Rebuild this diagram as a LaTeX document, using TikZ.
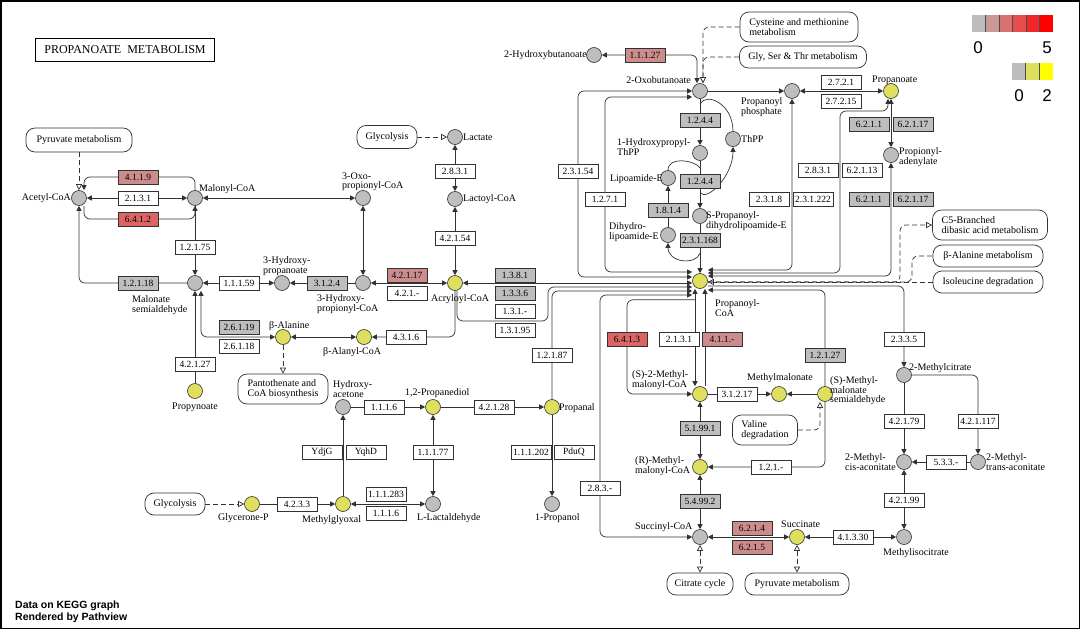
\documentclass[tikz,border=0pt]{standalone}
\usepackage{fontspec}
\setmainfont{Liberation Serif}
\newfontfamily\legendfont{Liberation Sans}
\definecolor{KGray}{RGB}{190,190,190}
\definecolor{KYellow}{RGB}{222,222,95}
\definecolor{KPink}{RGB}{205,140,140}
\definecolor{KRed}{RGB}{220,100,100}
\definecolor{KLine}{RGB}{50,50,50}
\definecolor{KS1}{RGB}{203,152,152}
\definecolor{KS2}{RGB}{216,114,114}
\definecolor{KS3}{RGB}{229,76,76}
\definecolor{KS4}{RGB}{242,38,38}
\definecolor{KS5}{RGB}{255,0,0}
\definecolor{KY2}{RGB}{255,255,0}
\usetikzlibrary{positioning,arrows.meta,backgrounds}
\newcommand\kfont{\fontsize{10}{9.5}\selectfont}
\newcommand\efont{\fontsize{9.5}{10}\selectfont}
\tikzset{
  cpd/.style={circle, draw=KLine, fill=KGray, minimum size=15pt, inner sep=0pt, line width=0.6pt},
  cpdy/.style={cpd, fill=KYellow},
  enz/.style={draw=KLine, fill=white, minimum width=40pt, minimum height=14pt, inner sep=0pt, line width=0.7pt, font=\efont},
  enzg/.style={enz, fill=KGray},
  enzp/.style={enz, fill=KPink},
  enzr/.style={enz, fill=KRed},
  mapbox/.style={draw=KLine, fill=white, rounded corners=9pt, inner sep=2pt, line width=0.7pt, font=\kfont, align=left},
  lbl/.style={inner sep=0pt, font=\kfont, align=left},
  rx/.style={draw=KLine, line width=0.7pt, rounded corners=6pt},
  link/.style={draw=KLine, line width=0.7pt, rounded corners=6pt, dash pattern=on 5pt off 3pt},
  lo/.style={-{Triangle[fill=white,length=6pt,width=6pt]}},
  blo/.style={{Triangle[fill=white,length=6pt,width=6pt]}-{Triangle[fill=white,length=6pt,width=6pt]}}
}
\begin{document}
\begin{tikzpicture}[x=1pt, y=-1pt, >={Triangle[length=5pt,width=5pt]}]
  \useasboundingbox (0,0) rectangle (1080,629);
  \draw[line width=1.5pt] (0.75,0.75) rectangle (1079.25,628.25);

  \node[draw, line width=1.4pt, minimum width=179pt, minimum height=23pt, font=\fontsize{12}{12}\selectfont] (title) at (125,50) {PROPANOATE\ \ METABOLISM};

  % compounds
  \node[cpd] (acoa) at (79,198) {};
  \node[cpd] (macoa) at (195,198) {};
  \node[cpd] (msa) at (195,283) {};
  \node[cpdy] (propy) at (195,391) {};
  \node[cpd] (hpa) at (282,283) {};
  \node[cpd] (hpcoa) at (363,283) {};
  \node[cpd] (opcoa) at (363,198) {};
  \node[cpdy] (acrcoa) at (455,283) {};
  \node[cpd] (lcoa) at (455,199) {};
  \node[cpd] (lac) at (455,137) {};
  \node[cpdy] (balan) at (283,337) {};
  \node[cpdy] (bacoa) at (364,337) {};
  \node[cpd] (hace) at (343,407) {};
  \node[cpdy] (pdiol) at (433,407) {};
  \node[cpdy] (ppal) at (552,407) {};
  \node[cpdy] (mgly) at (343,504) {};
  \node[cpdy] (gp) at (252,504) {};
  \node[cpd] (llact) at (433,504) {};
  \node[cpd] (prol) at (552,504) {};
  \node[cpd] (hbut) at (594,55) {};
  \node[cpd] (obut) at (700,91) {};
  \node[cpd] (pphos) at (792,91) {};
  \node[cpdy] (ppa) at (891,91) {};
  \node[cpd] (padn) at (891,155) {};
  \node[cpd] (hpthpp) at (700,153) {};
  \node[cpd] (thpp) at (733,139) {};
  \node[cpd] (lipe) at (668,178) {};
  \node[cpd] (dhlipe) at (668,235) {};
  \node[cpd] (spdhl) at (700,216) {};
  \node[cpdy] (pcoa) at (700,281) {};
  \node[cpdy] (smmcoa) at (700,394) {};
  \node[cpdy] (mma) at (779,394) {};
  \node[cpdy] (smsa) at (825,394) {};
  \node[cpdy] (rmmcoa) at (700,467) {};
  \node[cpd] (scoa) at (700,537) {};
  \node[cpdy] (succ) at (797,537) {};
  \node[cpd] (mcit) at (904,375) {};
  \node[cpd] (mcac) at (904,462) {};
  \node[cpd] (mtac) at (978,462) {};
  \node[cpd] (micit) at (904,537) {};

  % compound names
  \node[lbl, anchor=east] (t-acoa) at (71,198) {Acetyl-CoA};
  \node[lbl, anchor=west] (t-macoa) at (199,189) {Malonyl-CoA};
  \node[lbl, anchor=west] (t-opcoa) at (342,182) {3-Oxo-\\propionyl-CoA};
  \node[lbl, anchor=west] (t-msa) at (132,305) {Malonate\\semialdehyde};
  \node[lbl, anchor=west] (t-hpa) at (263,266) {3-Hydroxy-\\propanoate};
  \node[lbl, anchor=west] (t-hpcoa) at (317,304) {3-Hydroxy-\\propionyl-CoA};
  \node[lbl, anchor=west] (t-acrcoa) at (431,299) {Acryloyl-CoA};
  \node[lbl, anchor=west] (t-lcoa) at (463,199) {Lactoyl-CoA};
  \node[lbl, anchor=west] (t-lac) at (463,137) {Lactate};
  \node[lbl, anchor=east] (t-hbut) at (587,55) {2-Hydroxybutanoate};
  \node[lbl, anchor=east] (t-obut) at (691,80) {2-Oxobutanoate};
  \node[lbl, anchor=west] (t-pphos) at (741,107) {Propanoyl\\phosphate};
  \node[lbl, anchor=west] (t-hpthpp) at (617,147) {1-Hydroxypropyl-\\ThPP};
  \node[lbl, anchor=west] (t-thpp) at (741,139) {ThPP};
  \node[lbl, anchor=east] (t-lipe) at (663,179) {Lipoamide-E};
  \node[lbl, anchor=west] (t-dhlipe) at (609,232) {Dihydro-\\lipoamide-E};
  \node[lbl, anchor=west] (t-spdhl) at (706,221) {S-Propanoyl-\\dihydrolipoamide-E};
  \node[lbl, anchor=west] (t-pcoa) at (715,308) {Propanoyl-\\CoA};
  \node[lbl, anchor=west] (t-ppa) at (872,80) {Propanoate};
  \node[lbl, anchor=west] (t-padn) at (899,157) {Propionyl-\\adenylate};
  \node[lbl, anchor=west] (t-smmcoa) at (632,380) {(S)-2-Methyl-\\malonyl-CoA};
  \node[lbl, anchor=west] (t-mma) at (747,378) {Methylmalonate};
  \node[lbl, anchor=west] (t-smsa) at (830,391) {(S)-Methyl-\\malonate\\semialdehyde};
  \node[lbl, anchor=west] (t-mcit) at (909,368) {2-Methylcitrate};
  \node[lbl, anchor=west] (t-mcac) at (845,462) {2-Methyl-\\cis-aconitate};
  \node[lbl, anchor=west] (t-mtac) at (986,462) {2-Methyl-\\trans-aconitate};
  \node[lbl, anchor=west] (t-micit) at (883,553) {Methylisocitrate};
  \node[lbl, anchor=west] (t-succ) at (781,524) {Succinate};
  \node[lbl, anchor=west] (t-scoa) at (635,527) {Succinyl-CoA};
  \node[lbl, anchor=west] (t-rmmcoa) at (635,466) {(R)-Methyl-\\malonyl-CoA};
  \node[lbl, anchor=west] (t-ppal) at (559,408) {Propanal};
  \node[lbl, anchor=west] (t-prol) at (535,518) {1-Propanol};
  \node[lbl, anchor=west] (t-llact) at (417,518) {L-Lactaldehyde};
  \node[lbl, anchor=west] (t-pdiol) at (405,393) {1,2-Propanediol};
  \node[lbl, anchor=west] (t-hace) at (333,389) {Hydroxy-\\acetone};
  \node[lbl, anchor=west] (t-mgly) at (302,520) {Methylglyoxal};
  \node[lbl, anchor=west] (t-gp) at (218,518) {Glycerone-P};
  \node[lbl, anchor=west] (t-balan) at (269,326) {β-Alanine};
  \node[lbl, anchor=west] (t-bacoa) at (323,352) {β-Alanyl-CoA};
  \node[lbl, anchor=west] (t-propy) at (172,407) {Propynoate};

  % maps
  \node[mapbox, minimum width=106pt, minimum height=24pt] (pyr1) at (79,140) {Pyruvate metabolism};
  \node[mapbox, minimum width=60pt, minimum height=23pt] (glyc1) at (387,137) {Glycolysis};
  \node[mapbox, minimum width=118pt, minimum height=30pt] (cysmet) at (799,27) {Cysteine and methionine\\metabolism};
  \node[mapbox, minimum width=127pt, minimum height=22pt] (glyser) at (803,57) {Gly, Ser \& Thr metabolism};
  \node[mapbox, minimum width=115pt, minimum height=30pt] (c5) at (990,225) {C5-Branched\\dibasic acid metabolism};
  \node[mapbox, minimum width=110pt, minimum height=22pt] (bam) at (988,256) {β-Alanine metabolism};
  \node[mapbox, minimum width=110pt, minimum height=22pt] (ile) at (988,282) {Isoleucine degradation};
  \node[mapbox, minimum width=90pt, minimum height=30pt] (pant) at (283,389) {Pantothenate and\\CoA biosynthesis};
  \node[mapbox, minimum width=65pt, minimum height=30pt] (val) at (765,430) {Valine\\degradation};
  \node[mapbox, minimum width=60pt, minimum height=22pt] (glyc2) at (175,504) {Glycolysis};
  \node[mapbox, minimum width=66pt, minimum height=22pt] (cit) at (700,584) {Citrate cycle};
  \node[mapbox, minimum width=104pt, minimum height=22pt] (pyr2) at (797,584) {Pyruvate metabolism};

  % enzymes
  \node[enzp] (e4119) at (138,177) {4.1.1.9};
  \node[enz] (e2131a) at (138,198) {2.1.3.1};
  \node[enzr] (e6412) at (138,219) {6.4.1.2};
  \node[enz] (e12175) at (195,247) {1.2.1.75};
  \node[enzg] (e12118) at (138,283) {1.2.1.18};
  \node[enz] (e11159) at (239,283) {1.1.1.59};
  \node[enzg] (e3124) at (327,283) {3.1.2.4};
  \node[enzp] (e42117) at (407,275) {4.2.1.17};
  \node[enz] (e421x) at (407,293) {4.2.1.-};
  \node[enz] (e42154) at (455,238) {4.2.1.54};
  \node[enz] (e2831a) at (455,171) {2.8.3.1};
  \node[enzg] (e1381) at (515,275) {1.3.8.1};
  \node[enzg] (e1336) at (515,293) {1.3.3.6};
  \node[enz] (e131x) at (515,311) {1.3.1.-};
  \node[enz] (e13195) at (515,330) {1.3.1.95};
  \node[enz] (e4316) at (406,337) {4.3.1.6};
  \node[enzg] (e26119) at (239,327) {2.6.1.19};
  \node[enz] (e26118) at (239,346) {2.6.1.18};
  \node[enz] (e42127) at (195,364) {4.2.1.27};
  \node[enzp] (e11127) at (645,55) {1.1.1.27};
  \node[enz] (e23154) at (578,171) {2.3.1.54};
  \node[enz] (e1271) at (605,199) {1.2.7.1};
  \node[enzg] (e1244a) at (700,120) {1.2.4.4};
  \node[enzg] (e1244b) at (700,181) {1.2.4.4};
  \node[enzg] (e1814) at (668,210) {1.8.1.4};
  \node[enzg] (e231168) at (700,240) {2.3.1.168};
  \node[enz] (e2318) at (769,199) {2.3.1.8};
  \node[enz] (e231222) at (813,199) {2.3.1.222};
  \node[enz] (e2721) at (841,82) {2.7.2.1};
  \node[enz] (e27215) at (841,101) {2.7.2.15};
  \node[enzg] (e6211a) at (869,124) {6.2.1.1};
  \node[enzg] (e62117a) at (913,124) {6.2.1.17};
  \node[enz] (e2831b) at (818,170) {2.8.3.1};
  \node[enz] (e62113) at (862,170) {6.2.1.13};
  \node[enzg] (e6211b) at (869,199) {6.2.1.1};
  \node[enzg] (e62117b) at (913,199) {6.2.1.17};
  \node[enzr] (e6413) at (627,339) {6.4.1.3};
  \node[enz] (e2131b) at (679,339) {2.1.3.1};
  \node[enzp] (e411x) at (722,339) {4.1.1.-};
  \node[enzg] (e12127) at (825,355) {1.2.1.27};
  \node[enz] (e31217) at (737,394) {3.1.2.17};
  \node[enzg] (e51991) at (700,428) {5.1.99.1};
  \node[enz] (e121x) at (771,467) {1.2.1.-};
  \node[enzg] (e54992) at (700,501) {5.4.99.2};
  \node[enz] (e2833) at (600,488) {2.8.3.-};
  \node[enzp] (e6214) at (752,528) {6.2.1.4};
  \node[enzp] (e6215) at (752,547) {6.2.1.5};
  \node[enz] (e41330) at (853,537) {4.1.3.30};
  \node[enz] (e2335) at (904,339) {2.3.3.5};
  \node[enz] (e42179) at (904,421) {4.2.1.79};
  \node[enz] (e421117) at (978,421) {4.2.1.117};
  \node[enz] (e533x) at (946,462) {5.3.3.-};
  \node[enz] (e42199) at (904,500) {4.2.1.99};
  \node[enz] (e12187) at (552,355) {1.2.1.87};
  \node[enz] (e42128) at (494,407) {4.2.1.28};
  \node[enz] (e1116a) at (384,407) {1.1.1.6};
  \node[enz] (e11177) at (433,452) {1.1.1.77};
  \node[enz] (e111202) at (531,452) {1.1.1.202};
  \node[enz] (epduq) at (574,452) {PduQ};
  \node[enz] (eydjg) at (322,452) {YdjG};
  \node[enz] (eyqhd) at (366,452) {YqhD};
  \node[enz] (e4233) at (297,504) {4.2.3.3};
  \node[enz] (e111283) at (386,494) {1.1.1.283};
  \node[enz] (e1116b) at (386,513) {1.1.1.6};

  \coordinate (k131) at (548,321);
  \coordinate (k2831) at (840,111);
  \coordinate (kc5) at (900,250);
  \coordinate (kba) at (912,268);

  \begin{scope}[on background layer]
    \draw[rx,<->] (acoa) -- (macoa);
    \draw[rx,->] (macoa.north) |- (e4119.center) -| ([xshift=5pt]acoa.north);
    \draw[rx,->] ([xshift=5pt]acoa.south) |- (e6412.center) -| (macoa.south);
    \draw[rx,->] (msa.west) -| (acoa.south);
    \draw[link,lo] (pyr1) -- (acoa);
    \draw[rx,->] (macoa) -- (msa);
    \draw[rx,<->] (msa) -- (hpa);
    \draw[rx,->] (hpcoa) -- (hpa);
    \draw[rx,<->] (macoa) -- (opcoa);
    \draw[rx,<->] (opcoa) -- (hpcoa);
    \draw[rx,<->] (hpcoa) -- (acrcoa);
    \draw[rx,<->] (lcoa) -- (acrcoa);
    \draw[rx,<->] (lcoa) -- (lac);
    \draw[link,lo] (glyc1) -- (lac);
    \draw[rx,<->] (acrcoa) -- ([yshift=-2pt]pcoa.west);
    \draw[rx,->] ([xshift=2pt]acrcoa.south) |- (k131) |- ([yshift=-6pt]pcoa.west);
    \draw[rx,->] (acrcoa.south) |- (bacoa);
    \draw[rx,<->] (balan) -| ([xshift=6pt]msa.south);
    \draw[rx,->] (propy) -- (msa);
    \draw[rx,<->] (balan) -- (bacoa);
    \draw[link,lo] (balan) -- (pant);
    \draw[rx,->] (hace) -- (pdiol);
    \draw[rx,->] (pdiol) -- (ppal);
    \draw[rx,->] (mgly) -- (hace);
    \draw[rx,->] (gp) -- (mgly);
    \draw[link,lo] (glyc2) -- (gp);
    \draw[rx,<->] (mgly) -- (llact);
    \draw[rx,<->] (llact) -- (pdiol);
    \draw[rx,->] (ppal) -- (prol);
    \draw[rx,->] (ppal.north) |- ([yshift=-10pt]pcoa.west);
    \draw[rx,<->] ([yshift=-14pt]pcoa.west) -| (e2833.center) |- (scoa);
    \draw[rx,<->] ([yshift=4pt]pcoa.west) -| (e23154.center) |- (obut.west);
    \draw[rx,<->] ([yshift=9pt]pcoa.west) -| (e1271.center) |- ([yshift=-6pt]obut.west);
    \draw[rx,->] (obut) -- (pphos);
    \draw[rx,<->] ([xshift=-3pt]obut.north) |- (hbut);
    \draw[link,lo] (cysmet.west) -| ([xshift=3pt]obut.north);
    \draw[link,lo] (glyser.west) -| ([xshift=3pt]obut.north);
    \draw[rx,<->] (pphos) -- (ppa);
    \draw[rx,->] (obut) -- (hpthpp);
    \draw[rx,->] (hpthpp) -- (spdhl);
    \draw[rx,->] (spdhl) -- (pcoa);
    \draw[rx] ([yshift=-13pt]obut.center) .. controls +(6,-12) and +(0,-28) .. (thpp.north);
    \draw[rx,->] ([yshift=-4pt]e1244b.south) .. controls +(6,10) and +(0,30) .. (thpp.south);
    \draw[rx] (lipe.north) .. controls +(0,-14) and +(-6,-8) .. ([yshift=-7pt]hpthpp.south);
    \draw[rx,->] (dhlipe) -- (lipe);
    \draw[rx,->] ([yshift=-6pt]e231168.south) .. controls +(-4,12) and +(0,20) .. (dhlipe.south);
    \draw[rx,<->] (pphos.south) |- ([yshift=11pt]pcoa.east);
    \draw[rx,<->] ([xshift=-3pt]ppa.south) |- (k2831) |- ([yshift=8pt]pcoa.east);
    \draw[rx,<->] (ppa) -- (padn);
    \draw[rx,<->] (padn.south) |- ([yshift=5pt]pcoa.east);
    \draw[link,lo] (ile) -- ([yshift=-1pt]pcoa.east);
    \draw[link,lo] ([yshift=-1pt]pcoa.east) -| (kc5) |- (c5);
    \draw[link] ([yshift=-1pt]pcoa.east) -| (kba) |- (bam);
    \draw[rx,->] ([yshift=-5pt]pcoa.east) -| (mcit);
    \draw[rx,->] (smsa.north) |- ([yshift=-9pt]pcoa.east);
    \draw[rx,<->] ([xshift=-5pt]pcoa.south) -- ([xshift=-5pt]smmcoa.north);
    \draw[rx,->] ([xshift=5pt]smmcoa.north) -- ([xshift=5pt]pcoa.south);
    \draw[rx,->] ([xshift=-5pt,yshift=-11pt]pcoa.south) -| (e6413.center) |- (smmcoa);
    \draw[rx,->] (smmcoa) -- (mma);
    \draw[rx,->] (smsa) -- (mma);
    \draw[rx,<->] (smmcoa) -- (rmmcoa);
    \draw[rx,->] (smsa.south) |- (rmmcoa);
    \draw[link,lo] (val.east) -| ([xshift=-5pt]smsa.south);
    \draw[rx,<->] (rmmcoa) -- (scoa);
    \draw[rx,<->] (scoa) -- (succ);
    \draw[rx,<->] (succ) -- (micit);
    \draw[link,blo] (succ) -- (pyr2);
    \draw[link,blo] (scoa) -- (cit);
    \draw[rx,->] (mcit) -- (mcac);
    \draw[rx,->] (mcit.east) -| (mtac);
    \draw[rx,->] (mtac) -- (mcac);
    \draw[rx,<->] (micit) -- (mcac);
  \end{scope}

  % legend
  \foreach \c [count=\i from 0] in {KGray,KS1,KS2,KS3,KS4,KS5}
    \fill[\c] (972+13.5*\i,15) rectangle ++(13.5,17);
  \foreach \i in {1,...,5}
    \draw[black!70, line width=0.5pt] (972+13.5*\i,15) -- ++(0,17);
  \foreach \c [count=\i from 0] in {KGray,KYellow,KY2}
    \fill[\c] (1012+13.67*\i,63) rectangle ++(13.67,17);
  \foreach \i in {1,2}
    \draw[black!70, line width=0.5pt] (1012+13.67*\i,63) -- ++(0,17);
  \node[font=\legendfont\fontsize{17}{17}\selectfont, inner sep=0pt] (leg-r0) at (978,48) {0};
  \node[font=\legendfont\fontsize{17}{17}\selectfont, inner sep=0pt] (leg-r5) at (1047,48) {5};
  \node[font=\legendfont\fontsize{17}{17}\selectfont, inner sep=0pt] (leg-y0) at (1019,96) {0};
  \node[font=\legendfont\fontsize{17}{17}\selectfont, inner sep=0pt] (leg-y2) at (1047,96) {2};

  \node[anchor=west, inner sep=0pt, align=left, font=\legendfont\bfseries\fontsize{10.5}{12.5}\selectfont] (credit) at (15,612) {Data on KEGG graph\\Rendered by Pathview};
\end{tikzpicture}
\end{document}
